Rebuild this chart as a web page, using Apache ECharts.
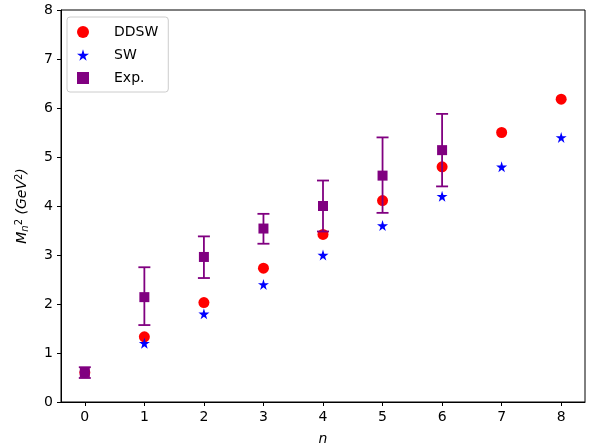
<!DOCTYPE html>
<html>
<head>
<meta charset="utf-8">
<script src="https://cdn.jsdelivr.net/npm/echarts@6/dist/echarts.min.js"></script>
<style>
  html, body { margin: 0; padding: 0; background: #fff; }
  #chart { width: 591px; height: 443px; }
</style>
</head>
<body>
<div id="chart"></div>
<script>
var nValues = [0, 1, 2, 3, 4, 5, 6, 7, 8];
var ddswValues = [0.6, 1.33, 2.03, 2.73, 3.42, 4.11, 4.80, 5.50, 6.18];
var swValues = [0.6, 1.2, 1.8, 2.4, 3.0, 3.6, 4.2, 4.8, 5.4];
var expN = [0, 1, 2, 3, 4, 5, 6];
var expValues = [0.6, 2.14, 2.96, 3.54, 4.0, 4.62, 5.14];
var expLow = [0.49, 1.57, 2.53, 3.23, 3.48, 3.86, 4.40];
var expHigh = [0.71, 2.75, 3.38, 3.84, 4.52, 5.40, 5.88];
var xTicks = [0, 1, 2, 3, 4, 5, 6, 7, 8];
var yTicks = [0, 1, 2, 3, 4, 5, 6, 7, 8];

var font = 'DejaVu Sans';
var purple = '#800080';
var starPath = 'path://M50,0 L61,35 L98,35 L68,57 L79,91 L50,70 L21,91 L32,57 L2,35 L39,35 Z';

var chart = echarts.init(document.getElementById('chart'));

function errorBar(params, api) {
  var x = api.value(0);
  var lo = api.coord([x, api.value(1)]);
  var hi = api.coord([x, api.value(2)]);
  var cap = 6;
  var style = { stroke: purple, lineWidth: 1.8 };
  return {
    type: 'group',
    children: [
      { type: 'line', shape: { x1: lo[0], y1: lo[1], x2: hi[0], y2: hi[1] }, style: style },
      { type: 'line', shape: { x1: lo[0] - cap, y1: lo[1], x2: lo[0] + cap, y2: lo[1] }, style: style },
      { type: 'line', shape: { x1: hi[0] - cap, y1: hi[1], x2: hi[0] + cap, y2: hi[1] }, style: style }
    ]
  };
}

var axisCommon = {
  axisLine: { show: true, onZero: false, lineStyle: { color: '#000', width: 1 } },
  axisTick: { show: true, inside: false, length: 4, lineStyle: { color: '#000' } },
  splitLine: { show: false },
  axisLabel: { color: '#000', fontFamily: font, fontSize: 14 }
};

chart.setOption({
  animation: false,
  backgroundColor: '#fff',
  grid: {
    left: 61, right: 6, top: 10, bottom: 41,
    outerBoundsMode: 'none', containLabel: false,
    show: true, borderColor: '#000', borderWidth: 1
  },
  legend: {
    left: 67, top: 17,
    orient: 'vertical',
    itemGap: 9,
    itemWidth: 12, itemHeight: 12,
    padding: [8, 10, 7, 10],
    borderColor: '#ccc', borderWidth: 1, borderRadius: 3,
    textStyle: { fontFamily: font, fontSize: 14, color: '#000', padding: [0, 0, 0, 20] },
    data: [
      { name: 'DDSW', icon: 'circle' },
      { name: 'SW', icon: starPath },
      { name: 'Exp.', icon: 'rect' }
    ]
  },
  xAxis: echarts.util.merge({
    type: 'value', min: -0.4, max: 8.4,
    name: 'n', nameLocation: 'middle', nameGap: 30,
    nameTextStyle: { fontFamily: font, fontSize: 14, fontStyle: 'italic', color: '#000' },
    axisTick: { customValues: xTicks },
    axisLabel: { customValues: xTicks, margin: 8 }
  }, axisCommon),
  yAxis: echarts.util.merge({
    type: 'value', min: 0, max: 8,
    name: '{m|M}{s|n}{sup|2}{t| (GeV}{sup|2}{t|)}',
    nameLocation: 'middle', nameGap: 31, nameRotate: 90,
    nameTextStyle: {
      rich: {
        m: { fontFamily: font, fontSize: 14, fontStyle: 'italic', color: '#000' },
        t: { fontFamily: font, fontSize: 14, fontStyle: 'italic', color: '#000' },
        s: { fontFamily: font, fontSize: 10, fontStyle: 'italic', color: '#000', verticalAlign: 'bottom', padding: [6, 0, 0, 0] },
        sup: { fontFamily: font, fontSize: 10, color: '#000', verticalAlign: 'top', padding: [0, 0, 6, 0] }
      }
    },
    axisTick: { customValues: yTicks },
    axisLabel: { customValues: yTicks, margin: 8 }
  }, axisCommon),
  series: [
    {
      name: 'DDSW', type: 'scatter', symbol: 'circle', symbolSize: 11, z: 2,
      itemStyle: { color: '#ff0000', opacity: 1 },
      data: nValues.map(function (n, i) { return [n, ddswValues[i]]; })
    },
    {
      name: 'SW', type: 'scatter', symbol: starPath, symbolSize: 11, z: 3,
      itemStyle: { color: '#0000ff', opacity: 1 },
      data: nValues.map(function (n, i) { return [n, swValues[i]]; })
    },
    {
      name: 'Exp.', type: 'custom', z: 4,
      itemStyle: { color: purple },
      renderItem: errorBar,
      encode: { x: 0, y: [1, 2] },
      data: expN.map(function (n, i) { return [n, expLow[i], expHigh[i]]; })
    },
    {
      name: 'Exp.', type: 'scatter', symbol: 'rect', symbolSize: 10, z: 5,
      itemStyle: { color: purple, opacity: 1 },
      data: expN.map(function (n, i) { return [n, expValues[i]]; })
    }
  ]
});
</script>
</body>
</html>
